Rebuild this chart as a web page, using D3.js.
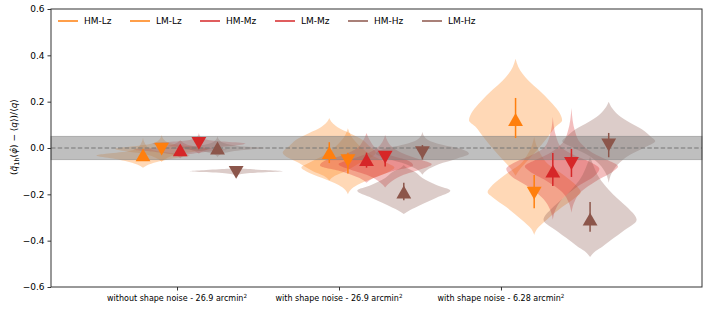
<!DOCTYPE html>
<html>
<head>
<meta charset="utf-8">
<script src="https://cdn.jsdelivr.net/npm/d3@7"></script>
<style>
  body { margin: 0; background: #fff; }
  svg { font-family: "DejaVu Sans", sans-serif; }
</style>
</head>
<body>
<svg id="chart" width="708" height="310"></svg>
<script>
// categories on the x axis
const groups = ['without shape noise - 26.9 arcmin', 'with shape noise - 26.9 arcmin', 'with shape noise - 6.28 arcmin'];
const series = ['HM-Lz', 'LM-Lz', 'HM-Mz', 'LM-Mz', 'HM-Hz', 'LM-Hz'];
const colors = ['#ff7f0e', '#ff7f0e', '#d62728', '#d62728', '#8c564b', '#8c564b'];
const markers = ['up', 'down', 'up', 'down', 'up', 'down'];
const yTicks = [-0.6, -0.4, -0.2, 0.0, 0.2, 0.4, 0.6];

// median per series, one value per group
const medians = [
  [-0.030, -0.020,  0.123],
  [-0.005, -0.055, -0.195],
  [-0.008, -0.050, -0.100],
  [ 0.020, -0.040, -0.067],
  [ 0.000, -0.190, -0.307],
  [-0.105, -0.020,  0.013]
];
const errLow = [
  [-0.045, -0.065,  0.043],
  [-0.020, -0.110, -0.260],
  [-0.020, -0.085, -0.164],
  [ 0.005, -0.080, -0.125],
  [-0.012, -0.225, -0.362],
  [-0.115, -0.050, -0.040]
];
const errHigh = [
  [-0.015,  0.025,  0.216],
  [ 0.010, -0.020, -0.117],
  [ 0.004, -0.020, -0.022],
  [ 0.035, -0.015, -0.004],
  [ 0.012, -0.150, -0.233],
  [-0.095,  0.013,  0.065]
];

// violin profiles: [value, relative width]
const violinHMLz = [
  [[-0.085,0],[-0.075,0.08],[-0.06,0.3],[-0.045,0.65],[-0.032,1],[-0.025,0.8],[-0.015,0.35],[0,0.12],[0.02,0.04],[0.045,0]],
  [[-0.14,0],[-0.12,0.12],[-0.1,0.35],[-0.065,0.65],[-0.02,1],[0.01,0.85],[0.035,0.72],[0.065,0.43],[0.09,0.18],[0.11,0.06],[0.13,0]],
  [[-0.12,0],[-0.09,0.1],[-0.05,0.28],[0,0.5],[0.05,0.7],[0.09,0.85],[0.12,1],[0.16,0.92],[0.2,0.75],[0.25,0.5],[0.29,0.28],[0.32,0.15],[0.35,0.06],[0.385,0]]
];
const violinLMLz = [
  [[-0.06,0],[-0.045,0.1],[-0.025,0.4],[-0.01,0.9],[-0.004,1],[0.005,0.7],[0.015,0.3],[0.03,0.08],[0.056,0]],
  [[-0.2,0],[-0.18,0.06],[-0.16,0.2],[-0.13,0.55],[-0.1,0.9],[-0.085,1],[-0.06,0.8],[-0.03,0.5],[0,0.3],[0.03,0.15],[0.055,0.06],[0.085,0]],
  [[-0.375,0],[-0.35,0.06],[-0.31,0.27],[-0.255,0.6],[-0.215,0.88],[-0.19,1],[-0.165,0.92],[-0.135,0.75],[-0.105,0.55],[-0.07,0.3],[-0.03,0.15],[0,0.07],[0.048,0]]
];
const violinHMMz = [
  [[-0.045,0],[-0.03,0.12],[-0.018,0.5],[-0.008,1],[0,0.6],[0.012,0.2],[0.035,0]],
  [[-0.15,0],[-0.13,0.15],[-0.1,0.55],[-0.075,1],[-0.055,0.9],[-0.03,0.5],[0,0.2],[0.03,0.08],[0.065,0]],
  [[-0.31,0],[-0.27,0.05],[-0.22,0.2],[-0.17,0.5],[-0.12,0.9],[-0.09,1],[-0.06,0.8],[-0.03,0.45],[0,0.2],[0.05,0.07],[0.135,0]]
];
const violinLMMz = [
  [[-0.025,0],[-0.01,0.15],[0.005,0.5],[0.015,0.95],[0.02,1],[0.027,0.6],[0.035,0.2],[0.045,0.05],[0.065,0]],
  [[-0.17,0],[-0.15,0.1],[-0.12,0.35],[-0.09,0.8],[-0.07,1],[-0.05,0.75],[-0.02,0.35],[0.01,0.12],[0.03,0.05],[0.056,0]],
  [[-0.28,0],[-0.24,0.05],[-0.19,0.2],[-0.14,0.55],[-0.1,0.9],[-0.08,1],[-0.05,0.75],[-0.02,0.45],[0.02,0.2],[0.07,0.08],[0.173,0]]
];
const violinHMHz = [
  [[-0.04,0],[-0.025,0.1],[-0.01,0.5],[0,1],[0.008,0.5],[0.02,0.15],[0.035,0.04],[0.052,0]],
  [[-0.285,0],[-0.27,0.12],[-0.245,0.37],[-0.215,0.7],[-0.185,1],[-0.16,0.7],[-0.13,0.4],[-0.105,0.25],[-0.09,0.1],[-0.073,0]],
  [[-0.47,0],[-0.445,0.12],[-0.425,0.27],[-0.39,0.5],[-0.36,0.7],[-0.31,1],[-0.26,0.82],[-0.22,0.6],[-0.18,0.4],[-0.13,0.2],[-0.08,0.08],[-0.038,0]]
];
const violinLMHz = [
  [[-0.118,0],[-0.11,0.2],[-0.104,0.7],[-0.1,1],[-0.096,0.7],[-0.09,0.2],[-0.083,0]],
  [[-0.115,0],[-0.095,0.1],[-0.07,0.35],[-0.045,0.75],[-0.025,1],[-0.005,0.85],[0.015,0.4],[0.035,0.12],[0.05,0.04],[0.07,0]],
  [[-0.15,0],[-0.11,0.06],[-0.07,0.2],[-0.03,0.45],[0,0.75],[0.03,1],[0.05,0.9],[0.08,0.72],[0.11,0.45],[0.14,0.22],[0.17,0.08],[0.2,0]]
];
const violins = [violinHMLz, violinLMLz, violinHMMz, violinLMMz, violinHMHz, violinLMHz];

// placement of series inside a group (x data units)
const groupStep = 1.15;
const firstOffset = -0.21;
const seriesStep = 0.115;
const violinWidth = 0.575;

const margin = {top: 9, right: 6, bottom: 23, left: 51};
const width = 708, height = 310;
const svg = d3.select('#chart');

const x = d3.scaleLinear().domain([-0.778, 3.241]).range([margin.left, width - margin.right]);
const y = d3.scaleLinear().domain([-0.6, 0.6]).range([height - margin.bottom, margin.top]);

const xPos = (s, g) => g * groupStep + firstOffset + s * seriesStep;

const plot = svg.append('g');

// violins
const half = violinWidth / 2;
series.forEach((name, s) => {
  groups.forEach((gname, g) => {
    const c = xPos(s, g);
    const area = d3.area()
      .curve(d3.curveMonotoneY)
      .y(d => y(d[0]))
      .x0(d => x(c - d[1] * half))
      .x1(d => x(c + d[1] * half));
    plot.append('path')
      .attr('d', area(violins[s][g]))
      .attr('fill', colors[s])
      .attr('fill-opacity', 0.3);
  });
});

// tolerance band and zero line
plot.append('rect')
  .attr('x', x.range()[0]).attr('width', x.range()[1] - x.range()[0])
  .attr('y', y(0.05)).attr('height', y(-0.05) - y(0.05))
  .attr('fill', 'gray').attr('fill-opacity', 0.5)
  .attr('stroke', 'gray').attr('stroke-opacity', 0.5);

plot.append('line')
  .attr('x1', x.range()[0]).attr('x2', x.range()[1])
  .attr('y1', y(0)).attr('y2', y(0))
  .attr('stroke', '#777').attr('stroke-width', 1.2)
  .attr('stroke-dasharray', '4.5,2.2');

// error bars and markers
const tri = d3.symbol().type(d3.symbolTriangle).size(95);
const triH = Math.sqrt(95 * 4 / Math.sqrt(3)) * Math.sqrt(3) / 2;
series.forEach((name, s) => {
  groups.forEach((gname, g) => {
    const cx = x(xPos(s, g));
    plot.append('line')
      .attr('x1', cx).attr('x2', cx)
      .attr('y1', y(errLow[s][g])).attr('y2', y(errHigh[s][g]))
      .attr('stroke', colors[s]).attr('stroke-width', 1.5);
    const rot = markers[s] === 'down' ? 180 : 0;
    // d3 triangle is centroid-centred; shift so the box centre sits on the value
    plot.append('path')
      .attr('d', tri())
      .attr('transform', `translate(${cx},${y(medians[s][g])}) rotate(${rot}) translate(0,${triH / 6})`)
      .attr('fill', colors[s]);
  });
});

// axes
const yAxis = d3.axisLeft(y).tickValues(yTicks).tickSize(3.5).tickPadding(3)
  .tickFormat(d => d3.format('.1f')(d).replace('-', '\u2212'));
const gy = svg.append('g').attr('transform', `translate(${margin.left},0)`).call(yAxis);
gy.select('.domain').remove();
gy.selectAll('text').attr('font-size', 9).attr('font-family', 'DejaVu Sans').attr('fill', '#000');
gy.selectAll('line').attr('stroke', '#333');

const xAxis = d3.axisBottom(x).tickValues([0, 1, 2]).tickSize(3.5).tickFormat('');
const gx = svg.append('g').attr('transform', `translate(0,${height - margin.bottom})`).call(xAxis);
gx.select('.domain').remove();
gx.selectAll('line').attr('stroke', '#333');

const xl = svg.append('g').selectAll('text').data(groups).join('text')
  .attr('x', (d, i) => x(i)).attr('y', 301)
  .attr('text-anchor', 'middle').attr('font-size', 8).attr('fill', '#000');
xl.append('tspan').text(d => d);
xl.append('tspan').attr('font-size', 5.6).attr('dy', -3.5).text('2');

// frame
svg.append('rect')
  .attr('x', margin.left).attr('y', margin.top)
  .attr('width', width - margin.left - margin.right)
  .attr('height', height - margin.top - margin.bottom)
  .attr('fill', 'none').attr('stroke', '#333').attr('stroke-width', 1);

// y label
const yl = svg.append('text')
  .attr('transform', 'translate(17,137) rotate(-90)')
  .attr('text-anchor', 'middle').attr('font-size', 9).attr('fill', '#000');
yl.append('tspan').text('(');
yl.append('tspan').attr('font-style', 'italic').text('q\u0303');
yl.append('tspan').attr('font-size', 6.5).attr('dy', 2).text('1h');
yl.append('tspan').attr('dy', -2).text('(');
yl.append('tspan').attr('font-style', 'italic').text('\u03c6\u0302');
yl.append('tspan').text(') \u2212 \u27e8');
yl.append('tspan').attr('font-style', 'italic').text('q');
yl.append('tspan').text('\u27e9)/\u27e8');
yl.append('tspan').attr('font-style', 'italic').text('q');
yl.append('tspan').text('\u27e9');

// legend
const legendX = [58, 130, 200, 275, 348, 422];
const leg = svg.append('g').selectAll('g').data(series).join('g')
  .attr('transform', (d, i) => `translate(${legendX[i]},21)`);
leg.append('line').attr('x1', 0).attr('x2', 20).attr('y1', 0).attr('y2', 0)
  .attr('stroke', (d, i) => colors[i]).attr('stroke-width', 1.5);
leg.append('text').attr('x', 26).attr('y', 3.3).attr('font-size', 9).attr('fill', '#000').text(d => d);
</script>
</body>
</html>
